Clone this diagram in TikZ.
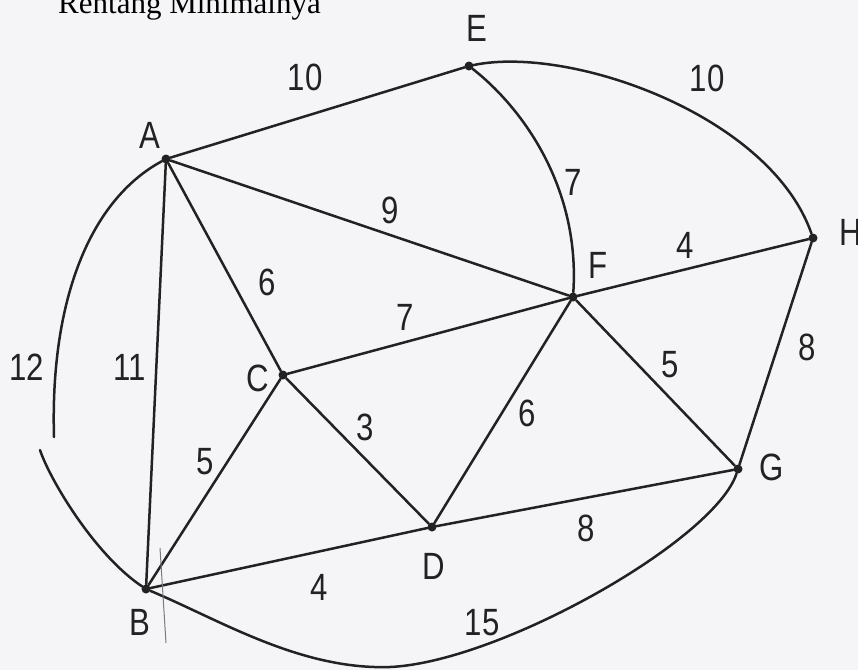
\documentclass[tikz,border=0pt]{standalone}
\usepackage{fontspec}
\setmainfont{Liberation Sans}
\newfontfamily\titlefont{Liberation Serif}
\newfontfamily\hand[FakeStretch=0.82]{Liberation Sans}
\definecolor{ink}{HTML}{222222}
\definecolor{paper}{HTML}{F5F5F7}
\begin{document}
\begin{tikzpicture}[x=1pt,y=-1pt,
  edge/.style={draw=ink,line width=2.5pt,line cap=round,line join=round},
  vtx/.style={circle,fill=ink,inner sep=0pt,minimum size=9pt},
  lbl/.style={text=ink,font=\hand\fontsize{38}{38}\selectfont,inner sep=0pt}]
\clip (0,0) rectangle (858,670);
\fill[paper] (0,0) rectangle (858,670);
\node[anchor=base west,inner sep=0pt,text=black,font=\titlefont\fontsize{31}{31}\selectfont] (title) at (58,13) {Rentang Minimalnya};
% vertices
\node[vtx] (A) at (166,159) {};
\node[vtx] (E) at (469,66) {};
\node[vtx] (H) at (813,238) {};
\node[vtx] (F) at (573,297) {};
\node[vtx] (C) at (283,375) {};
\node[vtx] (G) at (738,469) {};
\node[vtx] (D) at (432,527) {};
\node[vtx] (B) at (146,589) {};
\coordinate (g1) at (54,437);
\coordinate (g2) at (40,450);
\coordinate (low) at (390,667);
\coordinate (tail) at (166,643);
\coordinate (tailtop) at (160,548);
% edges
\draw[edge] (A) -- (E);
\draw[edge] (A) -- (F);
\draw[edge] (A) -- (C);
\draw[edge] (A) -- (B);
\draw[edge] (C) -- (F);
\draw[edge] (C) -- (D);
\draw[edge] (C) -- (B);
\draw[edge] (F) -- (H);
\draw[edge] (F) -- (G);
\draw[edge] (F) -- (D);
\draw[edge] (H) -- (G);
\draw[edge] (D) -- (G);
\draw[edge] (B) -- (D);
\draw[edge] (E) .. controls (570,45) and (770,115) .. (H);
\draw[edge] (E) .. controls (525,110) and (580,190) .. (F);
\draw[edge] (A) .. controls (90,200) and (50,300) .. (g1);
\draw[edge] (g2) .. controls (50,480) and (95,555) .. (B);
\draw[edge] (B) .. controls (220,620) and (300,670) .. (low) .. controls (500,662) and (715,540) .. (G);
\draw[draw=ink!60,line width=1pt] (tailtop) -- (tail);
% vertex labels
\node[lbl] (lA) at (150,135) {A};
\node[lbl] (lE) at (477,28) {E};
\node[lbl] (lH) at (851,232) {H};
\node[lbl] (lF) at (598,265) {F};
\node[lbl] (lC) at (258,378) {C};
\node[lbl] (lG) at (772,467) {G};
\node[lbl] (lD) at (434,566) {D};
\node[lbl] (lB) at (140,622) {B};
% weights
\node[lbl] (wAE) at (305,77) {10};
\node[lbl] (wEH) at (707,78) {10};
\node[lbl] (wEF) at (573,182) {7};
\node[lbl] (wAF) at (390,210) {9};
\node[lbl] (wFH) at (685,245) {4};
\node[lbl] (wAC) at (267,282) {6};
\node[lbl] (wCF) at (405,317) {7};
\node[lbl] (wAB2) at (27,367) {12};
\node[lbl] (wAB) at (130,367) {11};
\node[lbl] (wFG) at (670,365) {5};
\node[lbl] (wHG) at (807,347) {8};
\node[lbl] (wCD) at (365,427) {3};
\node[lbl] (wDF) at (527,413) {6};
\node[lbl] (wCB) at (205,462) {5};
\node[lbl] (wDG) at (586,528) {8};
\node[lbl] (wBD) at (319,587) {4};
\node[lbl] (wBG) at (482,623) {15};
\end{tikzpicture}
\end{document}
